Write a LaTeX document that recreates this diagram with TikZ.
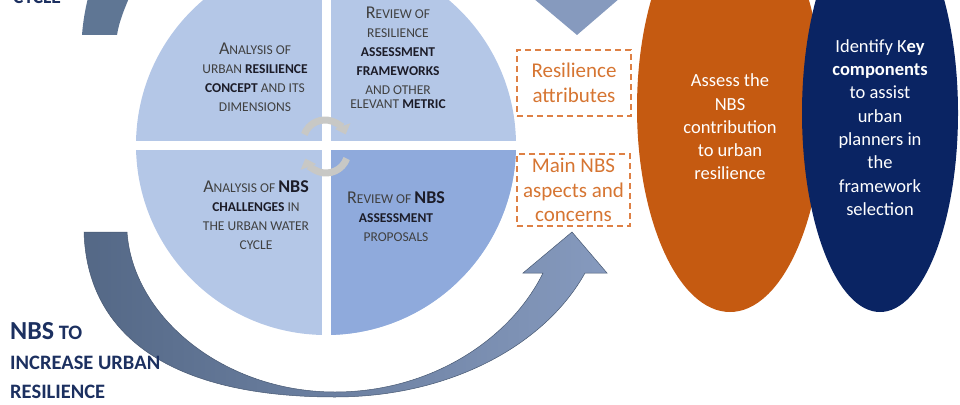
\documentclass[tikz,border=0pt]{standalone}
\usepackage{fontspec}
\setmainfont{Carlito}
\usetikzlibrary{arrows.meta}
\definecolor{qlight}{RGB}{180,199,231}
\definecolor{qdark}{RGB}{143,170,220}
\definecolor{qtxt}{RGB}{64,64,64}
\definecolor{qbold}{RGB}{28,28,40}
\definecolor{orng}{RGB}{197,90,17}
\definecolor{navyb}{RGB}{10,36,99}
\definecolor{dorange}{RGB}{222,128,68}
\definecolor{torange}{RGB}{214,117,50}
\definecolor{ttl}{RGB}{28,48,96}
\definecolor{arrL}{RGB}{84,104,134}
\definecolor{arrR}{RGB}{134,154,190}
\definecolor{arrTL}{RGB}{95,118,148}
\definecolor{garr}{RGB}{200,200,197}
\newcommand\initc[1]{{\fontsize{18}{19}\selectfont #1}}
\newcommand\qb[1]{\textbf{\color{qbold}#1}}
\tikzset{
  qtext/.style={align=center, inner sep=0pt, text=qtxt, font=\fontsize{13.5}{19}\selectfont},
  garrow/.style={draw=garr, line width=7pt, -{Triangle[width=16pt,length=9pt]}},
  etext/.style={align=center, inner sep=0pt, text=white, font=\fontsize{18.5}{23.3}\selectfont},
  dbox/.style={draw=dorange, line width=1.3pt, dash pattern=on 6pt off 4pt, text=torange, align=center, font=\fontsize{21}{24.5}\selectfont, inner sep=0pt}
}
\begin{document}
\begin{tikzpicture}[x=1pt,y=-1pt]
\useasboundingbox (0,0) rectangle (960,404);
\clip (0,0) rectangle (960,404);
% central circle
\fill[qlight] (326,145) circle[radius=190];
\begin{scope}
  \clip (326,145) rectangle (560,400);
  \fill[qdark] (326,145) circle[radius=190];
\end{scope}
\fill[white] (321.5,-10) rectangle (330.5,345);
\fill[white] (120,140.5) rectangle (530,149.5);
% quadrant texts
\node[qtext] (q1) at (255,77) {\initc{A}NALYSIS OF\\URBAN \qb{RESILIENCE}\\\qb{CONCEPT} AND ITS\\DIMENSIONS};
\node[qtext] (q2) at (398,57.5) {\initc{R}EVIEW OF\\RESILIENCE\\\qb{ASSESSMENT}\\\qb{FRAMEWORKS}\\AND OTHER\\[-5pt]ELEVANT \qb{METRIC}};
\node[qtext] (q3) at (256,215.5) {\initc{A}NALYSIS OF \qb{\initc{NBS}}\\\qb{CHALLENGES} IN\\THE URBAN WATER\\CYCLE};
\node[qtext] (q4) at (396,216.5) {\initc{R}EVIEW OF \qb{\initc{NBS}}\\\qb{ASSESSMENT}\\PROPOSALS};
% small gray cycle arrows
\draw[garrow] ([shift={(200:22)}]325,142) arc[start angle=200,end angle=340,radius=22];
\draw[garrow] ([shift={(20:22)}]326,151) arc[start angle=20,end angle=160,radius=22];
% big curved arrows
\shadedraw[left color=arrL, right color=arrR, draw=arrL!85!black, line width=0.5pt]
  (84,232) .. controls (87,335) and (170,397) .. (335,397)
  .. controls (450,397) and (545,345) .. (585,273)
  -- (607,273) -- (572,232) -- (523,273) -- (543,273)
  .. controls (510,340) and (430,392) .. (335,392)
  .. controls (225,392) and (133,318) .. (127,232) -- cycle;
\fill[arrTL] (82,35) .. controls (83,22) and (85,10) .. (88,-2) -- (129,-2) .. controls (124,10) and (119,22) .. (117,35) -- cycle;
\fill[arrR] (533,-2) -- (577,35) -- (620,-2) -- cycle;
% dashed boxes
\node[dbox, minimum width=114pt, minimum height=66pt] (ra) at (574,83) {Resilience\\attributes};
\node[dbox, minimum width=113pt, minimum height=72pt] (mn) at (573.5,190) {Main NBS\\aspects and\\concerns};
% ellipses
\fill[orng] (730,108) ellipse[x radius=93, y radius=204];
\fill[navyb] (880,113) ellipse[x radius=78, y radius=199];
\node[etext] (ot) at (730,127) {Assess the\\NBS\\contribution\\to urban\\resilience};
\node[etext] (nt) at (880,127.5) {Identify K\textbf{ey}\\\textbf{components}\\to assist\\urban\\planners in\\the\\framework\\selection};
% titles
\node[anchor=west, inner sep=0pt, align=left, text=ttl, font=\bfseries\fontsize{20.5}{29.5}\selectfont] (tt) at (10,361) {{\fontsize{26}{29.5}\selectfont NBS} TO\\INCREASE URBAN\\RESILIENCE};
\node[anchor=base west, inner sep=0pt, text=ttl, font=\bfseries\fontsize{19.5}{22}\selectfont] (tc) at (13,4) {CYCLE};
\end{tikzpicture}
\end{document}
